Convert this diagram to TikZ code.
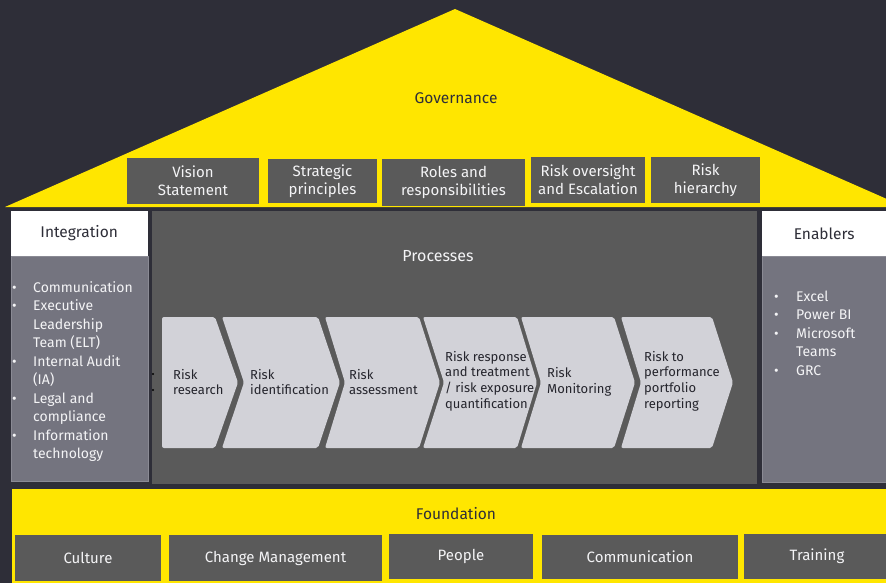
\documentclass[tikz,border=0pt]{standalone}
\usepackage{fontspec}
\setmainfont{Fira Sans}
\usepackage{xcolor}
\usepackage{tikz}
\usetikzlibrary{positioning}

\definecolor{eyyellow}{HTML}{FFE600}
\definecolor{eydark}{HTML}{2E2E38}
\definecolor{boxgray}{HTML}{5A5A5A}
\definecolor{listgray}{HTML}{74747F}
\definecolor{listedge}{HTML}{8A8A94}
\definecolor{chevgray}{HTML}{D2D2D8}
\definecolor{softwhite}{HTML}{F4F4F6}

\begin{document}
\begin{tikzpicture}[
    x=1pt, y=-1pt,
    pillar/.style={fill=boxgray, text=softwhite, align=center, inner sep=0pt, font=\fontsize{15}{18.3}\selectfont},
    head/.style={fill=white, text=eydark, inner sep=0pt, minimum width=137pt, minimum height=45pt, font=\fontsize{15.5}{17}\selectfont},
    listbox/.style={fill=listgray, draw=listedge, line width=0.6pt, inner sep=0pt, anchor=north west},
    items/.style={text=softwhite, inner sep=0pt, anchor=north west, font=\fontsize{14}{18.5}\selectfont},
    title/.style={inner sep=0pt, font=\fontsize{15.5}{17}\selectfont},
    chev/.style={fill=chevgray, rounded corners=2pt},
    ptext/.style={anchor=west, align=left, inner sep=0pt, text=eydark!80!black, font=\fontsize{13}{15.7}\selectfont}
]
    \clip (0,0) rectangle (886,583);
    \fill[eydark] (0,0) rectangle (886,583);

    % roof
    \fill[eyyellow] (5,207) -- (455,9) -- (905,207) -- cycle;
    \node[title, text=eydark] (gov) at (456,98) {Governance};

    \node[pillar, minimum width=132pt, minimum height=46pt] (g1) at (193,181)   {Vision\\Statement};
    \node[pillar, minimum width=109pt, minimum height=44pt] (g2) at (322.5,181) {Strategic\\principles};
    \node[pillar, minimum width=143pt, minimum height=47pt] (g3) at (453.5,182.5) {Roles and\\responsibilities};
    \node[pillar, minimum width=114pt, minimum height=46pt] (g4) at (588,180)   {Risk oversight\\and Escalation};
    \node[pillar, minimum width=109pt, minimum height=46pt] (g5) at (705.5,180) {Risk\\hierarchy};

    % left column
    \node[head] (inthead) at (79.2,233.5) {Integration};
    \node[listbox, minimum width=137pt, minimum height=225pt] (intlist) at (10.7,256) {};
    \node[items] (intitems) at (12,279) {\begin{tabular}{@{}p{21pt}@{}l@{}}
        \textbullet & Communication\\
        \textbullet & Executive\\
                    & Leadership\\
                    & Team (ELT)\\
        \textbullet & Internal Audit\\
                    & (IA)\\
        \textbullet & Legal and\\
                    & compliance\\
        \textbullet & Information\\
                    & technology
    \end{tabular}};

    % right column
    \node[head, minimum width=130pt, anchor=west] (enhead) at (762,233.5) {\hspace*{-3pt}Enablers\hspace*{3pt}};
    \node[listbox, minimum width=130pt, minimum height=226pt] (enlist) at (762,256) {};
    \node[items] (enitems) at (774,288) {\begin{tabular}{@{}p{22pt}@{}l@{}}
        \textbullet & Excel\\
        \textbullet & Power BI\\
        \textbullet & Microsoft\\
                    & Teams\\
        \textbullet & GRC
    \end{tabular}};

    % processes
    \fill[boxgray] (152,211) rectangle (757,484);
    \node[title, text=softwhite, font=\fontsize{16}{17}\selectfont] (proc) at (438,256) {Processes};

    \fill[black] (153,374) circle (1.2);
    \fill[black] (153,390) circle (1.2);

    \fill[chev] (162,317) -- (215,317) -- (238,382.5) -- (215,448) -- (162,448) -- cycle;
    \fill[chev] (222,317) -- (318,317) -- (340,382.5) -- (318,448) -- (222,448) -- (244,382.5) -- cycle;
    \fill[chev] (325,317) -- (419,317) -- (440,382.5) -- (419,448) -- (325,448) -- (345,382.5) -- cycle;
    \fill[chev] (423,317) -- (517,317) -- (537,382.5) -- (517,448) -- (423,448) -- (444,382.5) -- cycle;
    \fill[chev] (521,317) -- (614,317) -- (635,382.5) -- (614,448) -- (521,448) -- (541,382.5) -- cycle;
    \fill[chev] (621,317) -- (712,317) -- (733,382.5) -- (712,448) -- (621,448) -- (641,382.5) -- cycle;

    \node[ptext] (p1) at (173,382) {Risk\\research};
    \node[ptext] (p2) at (250,382) {Risk\\identification};
    \node[ptext] (p3) at (349,382) {Risk\\assessment};
    \node[ptext] (p4) at (445,381) {Risk response\\and treatment\\/ risk exposure\\quantification};
    \node[ptext] (p5) at (547,382) {Risk\\Monitoring};
    \node[ptext] (p6) at (644,381) {Risk to\\performance\\portfolio\\reporting};

    % foundation
    \fill[eyyellow] (12,489) rectangle (890,590);
    \node[title, text=eydark] (found) at (456,514) {Foundation};

    \node[pillar, minimum width=146pt, minimum height=46pt] (f1) at (88,558)     {Culture};
    \node[pillar, minimum width=213pt, minimum height=46pt] (f2) at (275.5,558)  {Change Management};
    \node[pillar, minimum width=144pt, minimum height=45pt] (f3) at (461,556.5)  {People};
    \node[pillar, minimum width=196pt, minimum height=44pt] (f4) at (640,557)    {Communication};
    \node[pillar, minimum width=146pt, minimum height=45pt] (f5) at (817,556.5)  {Training};
\end{tikzpicture}
\end{document}
